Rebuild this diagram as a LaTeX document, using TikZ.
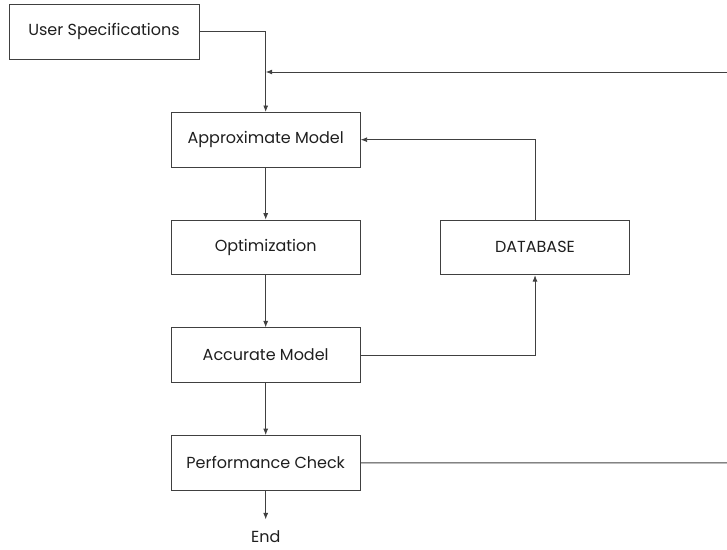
\documentclass[tikz,border=0pt]{standalone}
\usepackage{fontspec}
\setmainfont{Poppins}
\usetikzlibrary{arrows.meta}
\definecolor{lnc}{rgb}{0.25,0.25,0.25}
\definecolor{txc}{rgb}{0.12,0.12,0.12}

\begin{document}
\begin{tikzpicture}[x=1pt, y=-1pt, node distance=107.7pt, font=\fontsize{16}{19}\selectfont, block/.style={rectangle, draw=lnc, text=txc, line width=0.9pt, minimum width=189pt, minimum height=54.5pt}, line/.style={draw=lnc, line width=0.9pt}, arr/.style={line, -{Latex[length=6.5pt, width=5pt]}}]

    \useasboundingbox (0,0) rectangle (727,549);

    \node[block, minimum width=190pt, minimum height=55pt] (user) at (104,31.8) {User Specifications};
    \node[block] (approx) at (265.7,139.7) {Approximate Model};
    \node[block, below of=approx] (opt) {Optimization};
    \node[block, below of=opt] (acc) {Accurate Model};
    \node[block, below of=acc] (perf) {Performance Check};
    \node[block, right of=opt, node distance=269.3pt] (db) {DATABASE};
    \node[text=txc, below of=perf, node distance=74pt, outer sep=8pt] (end) {End};
    \coordinate (fbout) at (727,462.8);
    \coordinate (fbin) at (727,72);
    \coordinate (join) at (approx.north |- fbin);

    \draw[arr] (user) -| (approx);
    \draw[arr] (fbin) -- (join);
    \draw[arr] (approx) -- (opt);
    \draw[arr] (opt) -- (acc);
    \draw[arr] (acc) -- (perf);
    \draw[arr] (perf) -- (end);
    \draw[arr] (acc) -| (db);
    \draw[arr] (db) |- (approx);
    \draw[line] (perf) -- (fbout);

  \end{tikzpicture}
\end{document}
